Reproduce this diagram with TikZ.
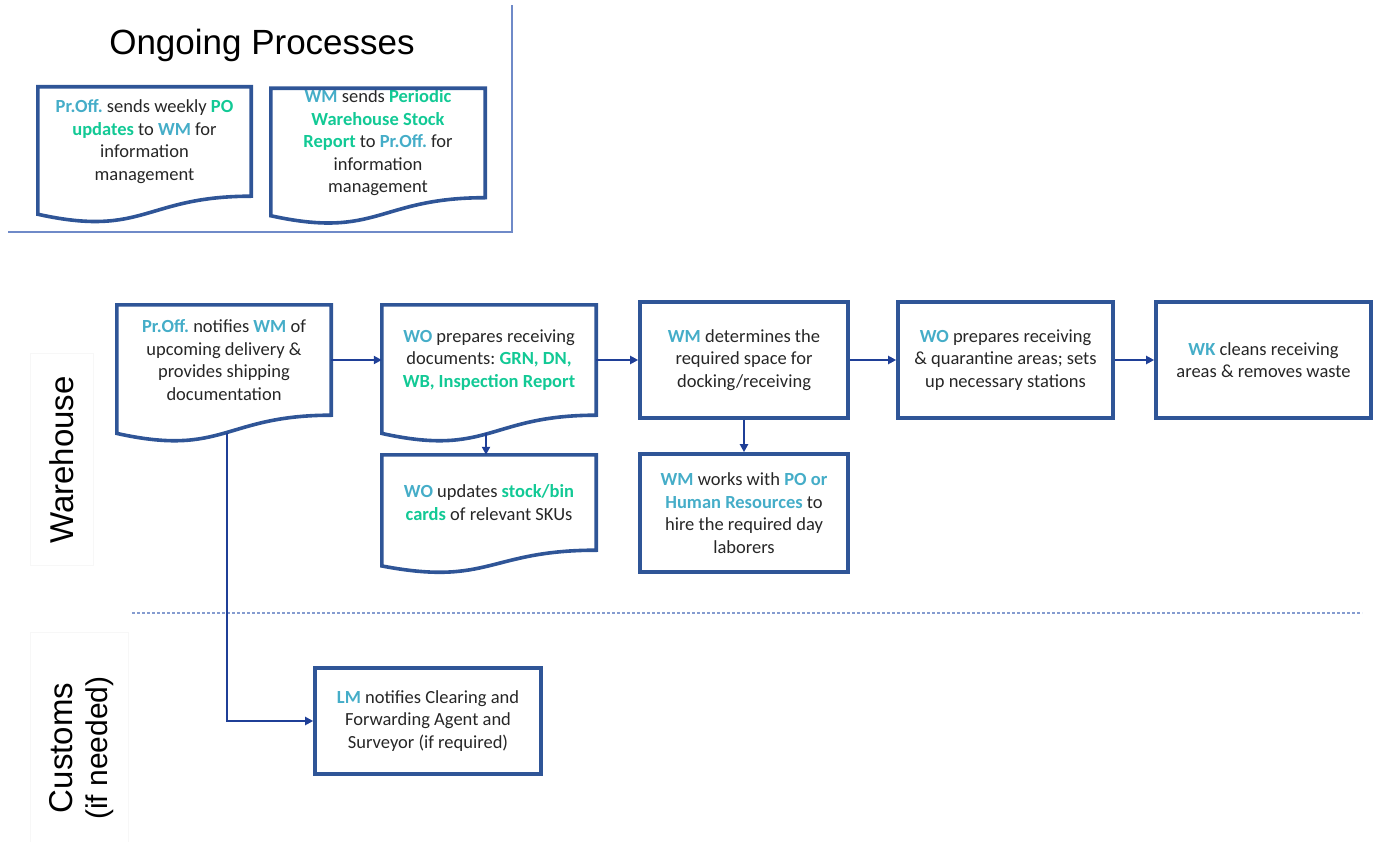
\documentclass[tikz,border=0pt]{standalone}
\usepackage{fontspec}
\setmainfont{Carlito}
\newfontfamily\headfont{Liberation Sans}
\usetikzlibrary{calc, arrows.meta, positioning}

\definecolor{rcvnavy}{HTML}{2F5597}
\definecolor{rcvline}{HTML}{1F3F97}
\definecolor{rcvcyan}{HTML}{45ADC8}
\definecolor{rcvgreen}{HTML}{12C995}
\definecolor{rcvrule}{HTML}{6F8AC8}
\definecolor{rcvtext}{HTML}{262626}

\newcommand{\actr}[1]{\textbf{\textcolor{rcvcyan}{#1}}}
\newcommand{\artf}[1]{\textbf{\textcolor{rcvgreen}{#1}}}
\frenchspacing

\tikzset{
  rcv/box/.style={draw=rcvnavy, line width=3.6pt, align=center, inner sep=0pt, text=rcvtext, font=\fontsize{18.5pt}{22.5pt}\selectfont},
  rcv/doc/.style={align=center, inner sep=0pt, text=rcvtext, font=\fontsize{18.5pt}{22.5pt}\selectfont},
  rcv/outline/.style={draw=rcvnavy, line width=3.6pt},
  rcv/arrow/.style={draw=rcvline, line width=2.6pt, -{Triangle[length=8pt,width=8pt]}},
  rcv/title/.style={font=\headfont\fontsize{35pt}{40pt}\selectfont},
  rcv/lane/.style={rotate=90, align=center, font=\headfont\fontsize{33pt}{35pt}\selectfont},
  rcv/rule/.style={draw=rcvrule, line width=1.2pt},
  rcv/sep/.style={draw=rcvrule!85, line width=1.2pt, dash pattern=on 3pt off 2pt},
  rcv/faint/.style={draw=black!3, line width=0.6pt},
}

\begin{document}
\begin{tikzpicture}[x=1pt, y=-1pt]
  \useasboundingbox (0,0) rectangle (1383,842);

  % Ongoing processes corner
  \draw[rcv/rule] (8,232) -- (512,232) -- (512,5);
  \node[rcv/title] (ongoing) at (262,45) {Ongoing Processes};

  \node[rcv/doc, minimum width=213pt, minimum height=109pt] (ppo) at (144.5,141.5)
    {\actr{Pr.Off.} sends weekly \artf{PO}\\ \artf{updates} to \actr{WM} for\\ information\\ management};
  \node[rcv/doc, minimum width=214pt, minimum height=109pt] (psr) at (378,143)
    {\actr{WM} sends \artf{Periodic}\\ \artf{Warehouse Stock}\\ \artf{Report} to \actr{Pr.Off.} for\\ information\\ management};

  % Lanes
  \draw[rcv/faint] (30,353) rectangle (93,565);
  \draw[rcv/faint] (30,632) rectangle (128,842);
  \node[rcv/lane] (warehouse) at (62,460) {Warehouse};
  \node[rcv/lane] (customs) at (82,748) {Customs\\{\fontsize{30pt}{35pt}\selectfont(if needed)}};
  \draw[rcv/sep] (132,613) -- (1362,613);

  % Warehouse row
  \node[rcv/doc, minimum width=214pt, minimum height=110pt] (notify) at (224,360)
    {\actr{Pr.Off.} notifies \actr{WM} of\\ upcoming delivery \&\\ provides shipping\\ documentation};
  \node[rcv/doc, minimum width=214pt, minimum height=110pt] (prep) at (489,360)
    {\actr{WO} prepares receiving\\ documents: \artf{GRN, DN,}\\ \artf{WB, Inspection Report}};
  \node[rcv/doc, minimum width=214pt, minimum height=95pt] (cards) at (489,502.5)
    {\actr{WO} updates \artf{stock/bin}\\ \artf{cards} of relevant SKUs};
  \node[rcv/box, minimum width=208pt, minimum height=116pt] (space) at (744,360)
    {\actr{WM} determines the\\ required space for\\ docking/receiving};
  \node[rcv/box, minimum width=208pt, minimum height=118pt] (labor) at (744,513)
    {\actr{WM} works with \actr{PO or}\\ \actr{Human Resources} to\\ hire the required day\\ laborers};
  \node[rcv/box, minimum width=215pt, minimum height=116pt] (areas) at (1005.5,360)
    {\actr{WO} prepares receiving\\ \& quarantine areas; sets\\ up necessary stations};
  \node[rcv/box, minimum width=215pt, minimum height=116pt] (clean) at (1263.5,360)
    {\actr{WK} cleans receiving\\ areas \& removes waste};

  % Customs row
  \node[rcv/box, minimum width=226pt, minimum height=106pt] (lm) at (428,721)
    {\actr{LM} notifies Clearing and\\ Forwarding Agent and\\ Surveyor (if required)};

  % Document outlines with wavy bottom
  \foreach \d in {ppo,psr,notify,prep,cards}
    \draw[rcv/outline] let \p1=($(\d.north)-(\d.south)$) in
      (\d.north west) -- (\d.north east) -- (\d.south east)
      .. controls (\d.south) and ($(\d.south)+(0pt,-0.381*\y1)$) .. ($(\d.south west)+(0pt,-0.165*\y1)$) -- cycle;

  \coordinate (notify-tail) at ($(notify.south)+(3pt,-18pt)$);
  \coordinate (prep-tail) at ($(prep.south)+(-3pt,-18pt)$);

  % Connectors
  \draw[rcv/arrow] (notify.east) -- (prep.west);
  \draw[rcv/arrow] (prep.east) -- (space.west);
  \draw[rcv/arrow] (space.east) -- (areas.west);
  \draw[rcv/arrow] (areas.east) -- (clean.west);
  \draw[rcv/arrow] (prep-tail) -- (prep-tail |- cards.north);
  \draw[rcv/arrow] (space.south) -- (labor.north);
  \draw[rcv/arrow] (notify-tail) |- (lm.west);

\end{tikzpicture}
\end{document}
